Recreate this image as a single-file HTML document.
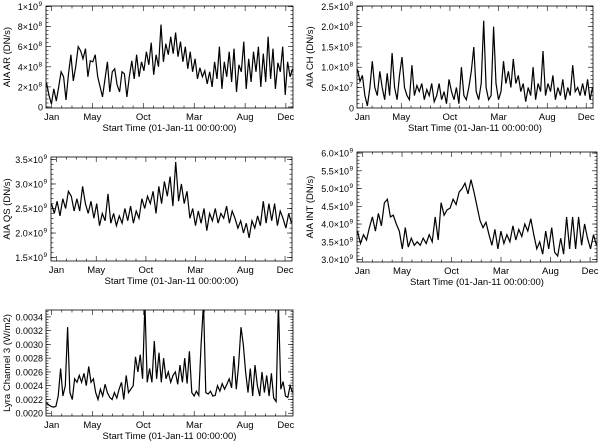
<!DOCTYPE html>
<html><head><meta charset="utf-8"><style>
html,body{margin:0;padding:0;background:#fff}
svg{display:block;font-family:"Liberation Sans",sans-serif}
</style></head><body>
<svg id="chart" width="600" height="442" viewBox="0 0 600 442"></svg>
<script>
// ---- data ----
const monthTicks = [0, 4, 9, 14, 19, 23];
const monthLabels = ["Jan", "May", "Oct", "Mar", "Aug", "Dec"];

const arValues = [2.4,1.2,0.3,1.8,0.6,2.0,3.5,3.0,0.7,3.2,5.2,2.6,4.0,6.0,5.6,4.8,5.8,3.0,4.6,4.5,5.2,3.0,2.0,1.0,2.8,4.5,1.5,3.5,3.8,2.2,1.5,3.5,3.3,1.0,
 3.0,4.6,2.8,5.2,3.0,4.5,3.6,5.5,4.2,6.4,3.2,5.2,4.0,8.2,4.5,6.3,5.2,7.0,5.3,7.4,5.0,6.5,4.5,6.0,3.8,5.5,3.5,4.8,2.8,3.9,3.0,3.6,2.3,
 3.5,2.0,4.5,2.8,6.0,1.8,4.5,3.0,5.5,2.5,5.8,1.5,4.2,3.5,6.5,1.8,4.8,2.5,5.5,3.5,6.0,2.0,5.3,2.5,7.0,2.8,5.8,1.8,4.4,3.5,6.0,1.2,4.5,3.0,3.8];
const arTicks = [0, 2, 4, 6, 8, 10];
const arTickLabels = [["0",""],["2×10","8"],["4×10","8"],["6×10","8"],["8×10","8"],["1×10","9"]];

const chValues = [9.5,6.5,8,3,0.5,5,11.5,5,3,9,
 5,2,8.5,3,13.5,5,2,8,12.5,5,
 3,2,10.5,3,5.5,4,6,2,4.5,3,
 6,1.5,3,6,2,4,1,7,4,2,
 5,1,10,3,2,5,9,15,4,2,
 6,21.5,5,2,3,20,6,2,4,11.5,
 6,9,5,12,6,8,4,6,1.5,5,
 3,10,2,6,4,14,3,6,4,8,
 2,5,3,7,2,5,3,10.5,4,5,
 3,6,3,7,2,5];
const chTicks = [0, 5, 10, 15, 20, 25];
const chTickLabels = [["0",""],["5.0×10","7"],["1.0×10","8"],["1.5×10","8"],["2.0×10","8"],["2.5×10","8"]];

const qsValues = [2.6,2.4,2.65,2.35,2.7,2.5,2.85,2.75,2.45,2.7,2.45,2.95,2.6,2.4,2.65,2.3,2.6,2.15,2.4,2.25,2.8,2.2,2.4,2.15,2.35,2.2,2.5,2.25,2.55,2.2,2.45,2.3,2.7,2.5,2.75,2.6,2.85,2.4,2.95,2.6,3.05,2.75,3.15,2.55,3.45,2.65,3.0,2.6,2.85,2.3,2.5,2.15,2.45,2.2,2.5,2.05,2.4,2.25,2.5,2.2,2.4,2.3,2.55,2.2,2.45,2.3,2.1,2.25,2.0,2.2,1.9,2.25,2.1,2.35,2.15,2.65,2.2,2.6,2.25,2.6,2.15,2.45,2.3,2.1,2.4,2.2];
const qsTicks = [1.5, 2.0, 2.5, 3.0, 3.5];
const qsTickLabels = [["1.5×10","9"],["2.0×10","9"],["2.5×10","9"],["3.0×10","9"],["3.5×10","9"]];

const intValues = [3.8,3.45,3.7,3.55,3.9,4.2,3.8,4.3,3.95,4.6,4.7,4.2,4.25,4.0,3.8,3.3,3.9,3.35,3.6,3.4,3.5,3.4,3.6,3.45,3.7,3.5,4.2,3.55,4.6,4.25,4.4,4.45,4.7,4.55,4.9,5.0,5.15,4.85,5.25,4.9,4.5,4.1,3.9,4.05,3.7,3.4,3.85,3.3,3.8,3.45,3.7,3.5,3.95,3.55,3.85,3.65,4.0,3.8,4.15,3.7,3.3,3.5,3.15,3.8,3.3,3.9,3.2,3.1,3.6,3.15,4.2,3.3,4.2,3.3,4.2,3.4,4.0,3.6,3.3,3.7,3.4];
const intTicks = [3.0, 3.5, 4.0, 4.5, 5.0, 5.5, 6.0];
const intTickLabels = [["3.0×10","9"],["3.5×10","9"],["4.0×10","9"],["4.5×10","9"],["5.0×10","9"],["5.5×10","9"],["6.0×10","9"]];

const lyraValues = [21.5,21.2,21,20.9,21,22.5,26.5,22.5,24,32.5,23,22,25,24.5,25.5,24.5,25.8,24,26.8,24.5,25,23,22,23.5,22.5,24.2,23,22.3,22,23,22.2,23.5,24.5,22,25.5,23,23.5,24,28.2,26,28.5,25,36,24.5,26.5,24.5,30.5,25,28.8,24.5,28,25,26,24.5,25.5,26,24.2,27,24.5,28,24.3,29,23,22.5,23.2,22.6,30,36,23,22.8,23.2,22.5,22.6,24,23.2,24.3,23.5,24.2,25,23.7,28.3,23.5,27,32.5,30,26,23,26.5,22.5,27,24,22.5,26,23,25.5,22.5,25.8,22.2,21.7,36,23.5,24.6,22.5,22.3,24,23];
const lyraTicks = [20, 22, 24, 26, 28, 30, 32, 34];
const lyraTickLabels = [["0.0020",""],["0.0022",""],["0.0024",""],["0.0026",""],["0.0028",""],["0.0030",""],["0.0032",""],["0.0034",""]];

// ---- drawing ----
const NS = "http://www.w3.org/2000/svg";
const svg = document.getElementById("chart");
function mk(tag, attrs, parent) {
  const e = document.createElementNS(NS, tag);
  for (const k in attrs) e.setAttribute(k, attrs[k]);
  (parent || svg).appendChild(e);
  return e;
}
const X0 = -0.55, X1 = 23.7;

function panel(name, box, ylim, values, yTicks, yTickLabels, ylabel) {
  const g = mk("g", {});
  
  
  const [l, t, r, b] = box;
  const xs = v => l + (v - X0) / (X1 - X0) * (r - l);
  const ys = v => b - (v - ylim[0]) / (ylim[1] - ylim[0]) * (b - t);
  const clipId = "clip-" + name;
  const cp = mk("clipPath", { id: clipId }, g);
  mk("rect", { x: l, y: t, width: r - l, height: b - t }, cp);
  const n = values.length;
  let d = "";
  values.forEach((v, i) => {
    const xv = -0.5 + i * (23.65 + 0.5) / (n - 1);
    d += (i ? "L" : "M") + xs(xv).toFixed(1) + "," + ys(v).toFixed(1);
  });
  const path = mk("path", { d: d, fill: "none", stroke: "#000", "stroke-width": 1.2, "clip-path": "url(#" + clipId + ")" }, g);
  
  
  const frame = mk("rect", { x: l, y: t, width: r - l, height: b - t, fill: "none", stroke: "#000", "stroke-width": 0.8 }, g);
  
  
  for (let m = 0; m <= 23; m++) {
    const x = xs(m);
    const major = monthTicks.includes(m);
    const len = major ? 5 : 2.5;
    mk("line", { x1: x, y1: b, x2: x, y2: b - len, stroke: "#000", "stroke-width": 0.6 }, g);
    mk("line", { x1: x, y1: t, x2: x, y2: t + len, stroke: "#000", "stroke-width": 0.6 }, g);
  }
  monthTicks.forEach((m, i) => {
    const tx = mk("text", { x: xs(m), y: b + 12, "font-size": 9.5, "text-anchor": "middle" }, g);
    tx.textContent = monthLabels[i];
    
    
  });
  const xt = mk("text", { x: (l + r) / 2, y: b + 23, "font-size": 9.5, "text-anchor": "middle" }, g);
  xt.textContent = "Start Time (01-Jan-11 00:00:00)";
  
  
  const step = yTicks[1] - yTicks[0];
  for (let v = yTicks[0] - step; v <= yTicks[yTicks.length - 1] + step; v += step / 5) {
    if (v < ylim[0] || v > ylim[1]) continue;
    const y = ys(v);
    mk("line", { x1: l, y1: y, x2: l + 2.5, y2: y, stroke: "#000", "stroke-width": 0.6 }, g);
    mk("line", { x1: r, y1: y, x2: r - 2.5, y2: y, stroke: "#000", "stroke-width": 0.6 }, g);
  }
  yTicks.forEach((v, i) => {
    const y = ys(v);
    mk("line", { x1: l, y1: y, x2: l + 5, y2: y, stroke: "#000", "stroke-width": 0.6 }, g);
    mk("line", { x1: r, y1: y, x2: r - 5, y2: y, stroke: "#000", "stroke-width": 0.6 }, g);
    const tx = mk("text", { x: l - 3, y: y + 3.5, "font-size": 9, "text-anchor": "end" }, g);
    
    
    const [base, exp] = yTickLabels[i];
    if (exp) {
      tx.setAttribute("x", l - 8);
      tx.textContent = base;
      const sup = mk("text", { x: l - 7.5, y: y - 0.5, "font-size": 6.5, "text-anchor": "start" }, g);
      sup.textContent = exp;
      
      
    } else {
      tx.textContent = base;
    }
  });
  const yt = mk("text", { x: 0, y: 0, "font-size": 9.5, "text-anchor": "middle",
    transform: "translate(" + (ylabel.dx) + "," + ((t + b) / 2) + ") rotate(-90)" }, g);
  yt.textContent = ylabel.text;
  
  
}

panel("aia-ar", [46, 6, 293, 108], [-0.1, 10.05], arValues, arTicks, arTickLabels, { text: "AIA AR (DN/s)", dx: 10 });
panel("aia-ch", [357, 6, 593, 108], [-0.05, 25.1], chValues, chTicks, chTickLabels, { text: "AIA CH (DN/s)", dx: 313 });
panel("aia-qs", [51, 157, 292, 261], [1.43, 3.55], qsValues, qsTicks, qsTickLabels, { text: "AIA QS (DN/s)", dx: 10 });
panel("aia-int", [357, 152, 597, 262], [2.93, 6.03], intValues, intTicks, intTickLabels, { text: "AIA INT (DN/s)", dx: 313 });
panel("lyra-ch3", [46, 310, 293, 416], [19.6, 35.0], lyraValues, lyraTicks, lyraTickLabels, { text: "Lyra Channel 3 (W/m2)", dx: 10 });
</script>
</body></html>
